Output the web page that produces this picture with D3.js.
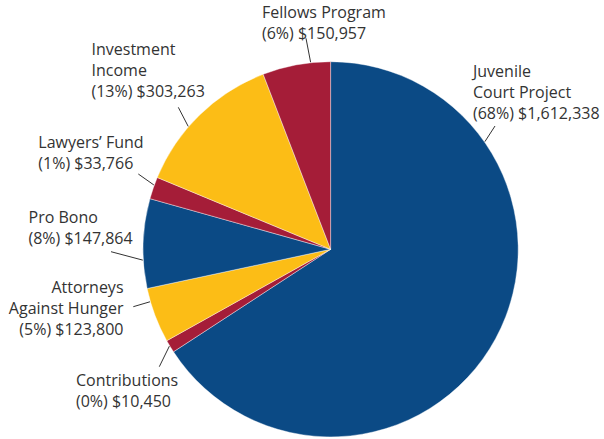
<!DOCTYPE html>
<meta charset="utf-8">
<title>Revenue pie</title>
<script src="https://cdn.jsdelivr.net/npm/d3@7"></script>
<style>
  html,body{margin:0;background:#fff}
  svg{display:block}
  .lbl{font:16px "Open Sans",sans-serif;fill:#333}
  .leader{stroke:#333;stroke-width:1;fill:none}
  .slice{stroke:#fff;stroke-width:0.4}
</style>
<svg width="604" height="439"></svg>
<script>
// data, clockwise from 12 o'clock
const categories = ['Juvenile Court Project','Contributions','Attorneys Against Hunger','Pro Bono',"Lawyers\u2019 Fund",'Investment Income','Fellows Program'];
const amounts    = [1612338, 10450, 123800, 147864, 33766, 303263, 150957];
const percents   = [68, 0, 5, 8, 1, 13, 6];
// slice shares as drawn in the picture (%)
const shares     = [65.8, 1.1, 4.75, 7.7, 1.9, 12.9, 5.85];
const colors     = ['#0b4a85','#a51d38','#fcbd16','#0b4a85','#a51d38','#fcbd16','#a51d38'];

// label layout: text lines with name split, position, anchor, leader (arc angle deg, outer end)
const nameLines = [['Juvenile','Court Project'],['Contributions'],['Attorneys','Against Hunger'],['Pro Bono'],["Lawyers\u2019 Fund"],['Investment','Income'],['Fellows Program']];
const layout = [
  {x:473, y:77,    anchor:'start', a:55.1,  ox:495,   oy:126},
  {x:76,  y:386,   anchor:'start', a:239,   ox:159.3, oy:366.7},
  {x:123.5,y:293,  anchor:'end',   a:253.8, ox:133.3, oy:306.7},
  {x:28.5,y:223,   anchor:'start', a:266.7, ox:111,   oy:251.7},
  {x:38.3,y:148.3, anchor:'start', a:290,   ox:138.3, oy:174},
  {x:91.5,y:55,    anchor:'start', a:310.8, ox:178.3, oy:107.3},
  {x:262, y:18,    anchor:'start', a:353.9, ox:306,   oy:38.3}
];

const cx = 330.6, cy = 249.3, r = 187.6, lh = 21;
const fmt = d3.format(',');

const svg = d3.select('svg');
const g = svg.append('g').attr('transform', `translate(${cx},${cy})`);

const pie = d3.pie().sort(null).value(d => d.share);
const arc = d3.arc().innerRadius(0).outerRadius(r);
const rows = categories.map((c,i) => ({name:c, share:shares[i], amount:amounts[i], pct:percents[i], color:colors[i], i}));

g.selectAll('path.slice')
  .data(pie(rows))
  .join('path')
  .attr('class','slice')
  .attr('fill', d => d.data.color)
  .attr('d', arc);

// leaders
svg.append('g').selectAll('line')
  .data(layout)
  .join('line')
  .attr('class','leader')
  .attr('x1', d => d.ox).attr('y1', d => d.oy)
  .attr('x2', d => cx + (r+0.5)*Math.sin(d.a*Math.PI/180))
  .attr('y2', d => cy - (r+0.5)*Math.cos(d.a*Math.PI/180));

// labels
const t = svg.append('g').selectAll('text')
  .data(rows)
  .join('text')
  .attr('class','lbl')
  .attr('text-anchor', d => layout[d.i].anchor)
  .attr('x', d => layout[d.i].x)
  .attr('y', d => layout[d.i].y);

t.each(function(d){
  const L = layout[d.i];
  const lines = nameLines[d.i].concat([`(${d.pct}%) $${fmt(d.amount)}`]);
  d3.select(this).selectAll('tspan')
    .data(lines)
    .join('tspan')
    .attr('x', L.x)
    .attr('dy', (s,k) => k ? lh : 0)
    .text(s => s);
});
</script>
